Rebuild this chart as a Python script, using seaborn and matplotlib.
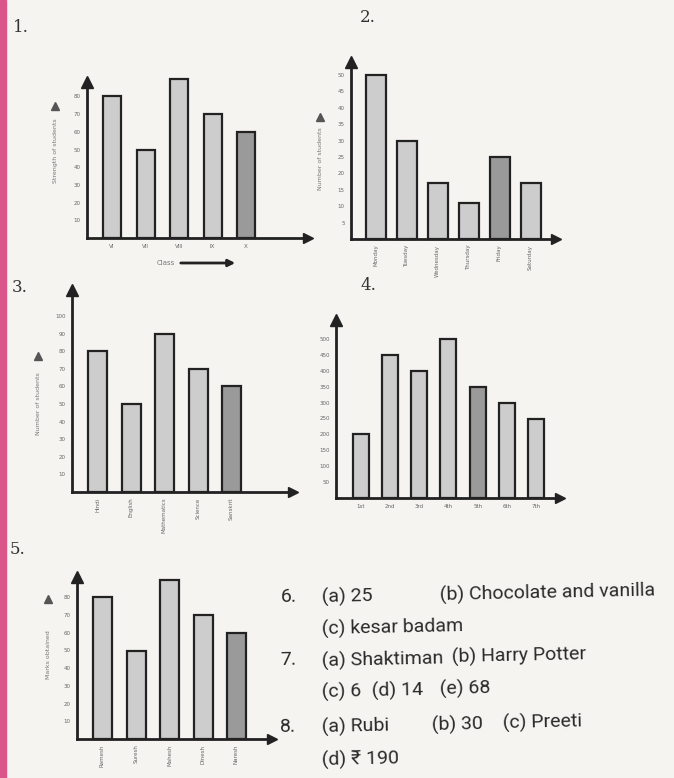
import matplotlib
matplotlib.use("Agg")
import matplotlib.pyplot as plt
import seaborn as sns
from matplotlib.patches import Rectangle, FancyArrowPatch

# -----------------------------
# Data
# -----------------------------
class_labels = ["VI", "VII", "VIII", "IX", "X"]
class_strength = [80, 50, 90, 70, 60]
class_ticks = [10, 20, 30, 40, 50, 60, 70, 80]

day_labels = ["Monday", "Tuesday", "Wednesday", "Thursday", "Friday", "Saturday"]
day_values = [50, 30, 17, 11, 25, 17]
day_ticks = [5, 10, 15, 20, 25, 30, 35, 40, 45, 50]

subject_labels = ["Hindi", "English", "Mathematics", "Science", "Sanskrit"]
subject_values = [80, 50, 90, 70, 60]
subject_ticks = [10, 20, 30, 40, 50, 60, 70, 80, 90, 100]

week_labels = ["1st", "2nd", "3rd", "4th", "5th", "6th", "7th"]
week_values = [200, 450, 400, 500, 350, 300, 250]
week_ticks = [50, 100, 150, 200, 250, 300, 350, 400, 450, 500]

name_labels = ["Ramesh", "Suresh", "Mahesh", "Dinesh", "Naresh"]
name_values = [80, 50, 90, 70, 60]
name_ticks = [10, 20, 30, 40, 50, 60, 70, 80]

# -----------------------------
# Style
# -----------------------------
sns.set_style("white")
plt.rcParams["font.family"] = ["DejaVu Sans"]

W, H = 674, 778
PAPER = "#f6f4f1"
LIGHT = "#cdcdcd"
DARK = "#9a9a9a"
INK = "#222222"

fig = plt.figure(figsize=(W / 100, H / 100), dpi=100, facecolor=PAPER)
fig.patches.append(Rectangle((0, 0), 6 / W, 1, transform=fig.transFigure,
                             color="#d9558a", zorder=0))


def fy(y):
    # page y (from top) -> figure pixels (from bottom)
    return H - y


def bar_chart(x0, x1, ytop, ybase, labels, values, ticks, dark_idx,
              c0, step_px, bar_px, unit_px, rot):
    ax = fig.add_axes([x0 / W, (H - ybase) / H, (x1 - x0) / W, (ybase - ytop) / H])
    ax.patch.set_alpha(0)
    colors = [DARK if i == dark_idx else LIGHT for i in range(len(labels))]
    sns.barplot(x=labels, y=values, hue=labels, palette=colors, legend=False,
                width=bar_px / step_px, edgecolor=INK, linewidth=1.6, ax=ax)
    for p in ax.patches:
        p.set_clip_on(False)
    left = -(c0 - x0) / step_px
    ax.set_xlim(left, left + (x1 - x0) / step_px)
    tick_step = ticks[1] - ticks[0]
    ax.set_ylim(0, (ybase - ytop) / unit_px * tick_step)
    ax.set_yticks(ticks)
    ax.set_yticklabels([str(t) for t in ticks], fontsize=4, color="#666666")
    ax.tick_params(axis="y", length=3, width=1.6, direction="inout", pad=3, color=INK)
    ax.tick_params(axis="x", length=0, pad=4, labelsize=4, labelcolor="#666666",
                   labelrotation=rot)
    for s in ["top", "right"]:
        ax.spines[s].set_visible(False)
    for s in ["left", "bottom"]:
        ax.spines[s].set_linewidth(2)
        ax.spines[s].set_color(INK)
    ax.plot(0, 1, marker="^", ms=8, color=INK, transform=ax.transAxes, clip_on=False)
    ax.plot(1, 0, marker=">", ms=7, color=INK, transform=ax.transAxes, clip_on=False)
    ax.set_xlabel("")
    ax.set_ylabel("")
    return ax


def side_label(x, y0, y1, text):
    fig.text(x / W, fy((y0 + y1) / 2) / H, text, rotation=90, fontsize=4.5,
             color="#777777", ha="center", va="center")
    fig.add_artist(plt.Line2D([x / W], [fy(y0 - 6) / H], marker="^", ms=6,
                              color="#555555", transform=fig.transFigure))


# ==========================================
# 1. Strength of classes
# ==========================================
bar_chart(87, 308, 82, 238, class_labels, class_strength, class_ticks, 4,
          112, 33.5, 18, 17.7, 0)
side_label(55, 112, 190, "Strength of students")
fig.text(157 / W, fy(263) / H, "Class", fontsize=5, color="#777777", va="center")
fig.add_artist(FancyArrowPatch(
    (178 / W, fy(263) / H), (238 / W, fy(263) / H), transform=fig.transFigure,
    arrowstyle="-|>", mutation_scale=10, lw=2, color=INK))

# ==========================================
# 2. Students present on each day
# ==========================================
bar_chart(351, 556, 62, 239, day_labels, day_values, day_ticks, 4,
          375.5, 31, 20, 16.4, 90)
side_label(320, 123, 195, "Number of students")

# ==========================================
# 3. Marks in subjects
# ==========================================
bar_chart(72, 293, 290, 492, subject_labels, subject_values, subject_ticks, 4,
          97.5, 33.5, 19, 17.6, 90)
side_label(38, 362, 445, "Number of students")

# ==========================================
# 4. Weekly sale
# ==========================================
bar_chart(336, 560, 320, 498, week_labels, week_values, week_ticks, 4,
          360.5, 29.3, 16, 15.9, 0)

# ==========================================
# 5. Marks of students
# ==========================================
bar_chart(77, 272, 577, 739, name_labels, name_values, name_ticks, 4,
          102.5, 33.5, 19, 17.7, 90)
side_label(48, 605, 705, "Marks obtained")

# -----------------------------
# Question numbers
# -----------------------------
for num, x, y in [("1.", 13, 28), ("2.", 360, 18), ("3.", 12, 288),
                  ("4.", 360, 285), ("5.", 10, 550)]:
    fig.text(x / W, fy(y) / H, num, fontsize=12, color="#333333", va="center",
             family=["DejaVu Serif"])

# -----------------------------
# Answer text block
# -----------------------------
answers = [
    ("6.", 280, 597), ("(a) 25", 322, 597), ("(b) Chocolate and vanilla", 440, 593),
    ("(c) kesar badam", 322, 628),
    ("7.", 280, 660), ("(a) Shaktiman", 322, 660), ("(b) Harry Potter", 452, 656),
    ("(c) 6", 322, 692), ("(d) 14", 372, 691), ("(e) 68", 440, 689),
    ("8.", 280, 727), ("(a) Rubi", 322, 727), ("(b) 30", 432, 725), ("(c) Preeti", 503, 723),
    ("(d) \u20b9 190", 322, 760),
]
for txt, x, y in answers:
    fig.text(x / W, fy(y) / H, txt, fontsize=14, color="#2a2a2a", va="center",
             rotation=1.2, family=["Roboto", "DejaVu Sans"])

fig.savefig("out.png", dpi=100, facecolor=PAPER)
